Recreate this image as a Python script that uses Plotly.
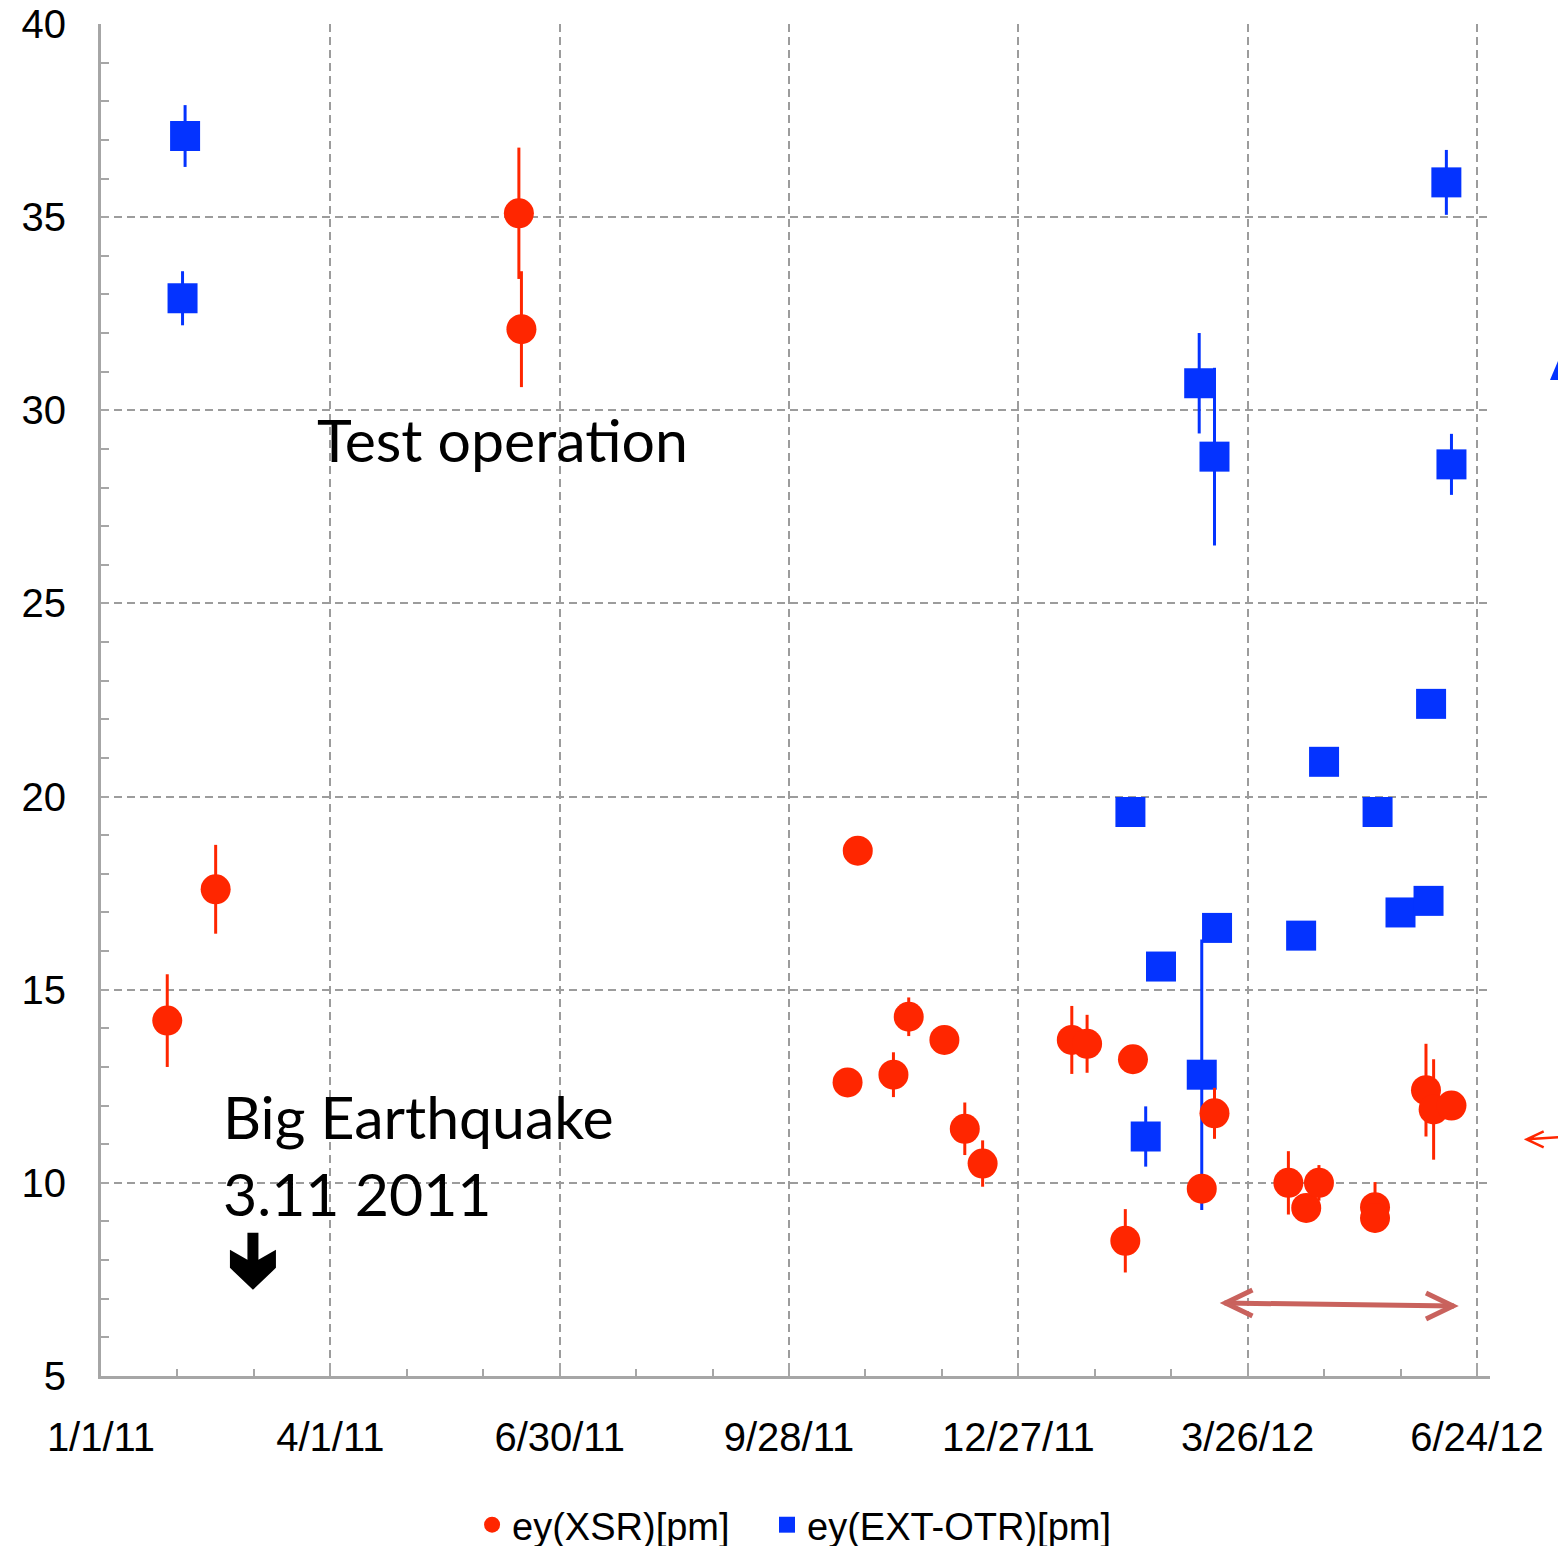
import plotly.graph_objects as go

# ey(XSR)[pm] measurements
xsr_dates = [
    "2011-01-27", "2011-02-15", "2011-06-14", "2011-06-15", "2011-10-21",
    "2011-10-25", "2011-11-08", "2011-11-14", "2011-11-28", "2011-12-06",
    "2011-12-13", "2012-01-17", "2012-01-23", "2012-02-07", "2012-02-10",
    "2012-03-08", "2012-03-13", "2012-04-11", "2012-04-18", "2012-04-23",
    "2012-05-15", "2012-05-15", "2012-06-04", "2012-06-07", "2012-06-14",
]
xsr_values = [
    14.2, 17.6, 35.1, 32.1, 12.6,
    18.6, 12.8, 14.3, 13.7, 11.4,
    10.5, 13.7, 13.6, 8.5, 13.2,
    9.85, 11.8, 10.0, 9.35, 10.0,
    9.37, 9.09, 12.4, 11.9, 12.0,
]
xsr_errors = [
    1.2, 1.15, 1.7, 1.5, 0.15,
    0.0, 0.58, 0.5, 0.0, 0.68,
    0.6, 0.88, 0.75, 0.82, 0.0,
    0.0, 0.66, 0.82, 0.0, 0.46,
    0.65, 0.0, 1.2, 1.3, 0.0,
]

# ey(EXT-OTR)[pm] measurements
otr_dates = [
    "2011-02-02", "2011-02-03", "2012-02-09", "2012-02-15", "2012-02-21",
    "2012-03-07", "2012-03-08", "2012-03-13", "2012-03-14", "2012-04-16",
    "2012-04-25", "2012-05-16", "2012-05-25", "2012-06-05", "2012-06-06",
    "2012-06-12", "2012-06-14",
]
otr_values = [
    32.9, 37.1, 19.6, 11.2, 15.6,
    30.7, 12.8, 28.8, 16.6, 16.4,
    20.9, 19.6, 17.0, 17.3, 22.4,
    35.9, 28.6,
]
otr_errors = [
    0.7, 0.8, 0.0, 0.78, 0.0,
    1.3, 3.5, 2.3, 0.1, 0.0,
    0.0, 0.0, 0.0, 0.0, 0.0,
    0.84, 0.79,
]

# axis settings
x_start = "2011-01-01"
x_end = "2012-06-29 03:00"
DAY_MS = 86400000
major_step_days = 90
minor_step_days = 30
y_range = [5, 40]

RED = "#FF2600"
BLUE = "#0433FF"
GRID = "#9C9C9C"
AXIS = "#A6A6A6"
NOTE_RED = "#C9625D"
TICK_FONT = "Liberation Sans, Arial, sans-serif"
NOTE_FONT = "Lato, Open Sans, sans-serif"

fig = go.Figure()

fig.add_trace(go.Scatter(
    x=otr_dates, y=otr_values, mode="markers", name="ey(EXT-OTR)[pm]",
    marker=dict(symbol="square", size=30, color=BLUE, line=dict(width=0)),
    error_y=dict(type="data", array=otr_errors, color=BLUE, thickness=3, width=0),
    legend="legend2",
))
fig.add_trace(go.Scatter(
    x=xsr_dates, y=xsr_values, mode="markers", name="ey(XSR)[pm]",
    marker=dict(symbol="circle", size=30, color=RED, line=dict(width=0)),
    error_y=dict(type="data", array=xsr_errors, color=RED, thickness=3, width=0),
    legend="legend",
))

# black block arrow marking the earthquake date (path in pixels around its tip)
fig.add_shape(
    type="path", xref="x", yref="y", xsizemode="pixel", ysizemode="pixel",
    xanchor="2011-03-01 15:00", yanchor=7.23,
    path="M -5.5 57 L 5.5 57 L 5.5 30 L 23 40 L 23 22 L 0 0 L -23 22 L -23 40 L -5.5 30 Z",
    fillcolor="black", line=dict(width=0),
)

# double-headed period arrow
arrow_left = ("2012-03-16 22:00", 6.89)
arrow_right = ("2012-06-15", 6.81)
fig.add_shape(type="line", xref="x", yref="y",
              x0=arrow_left[0], y0=arrow_left[1], x1=arrow_right[0], y1=arrow_right[1],
              line=dict(color=NOTE_RED, width=5))
fig.add_shape(type="path", xref="x", yref="y", xsizemode="pixel", ysizemode="pixel",
              xanchor=arrow_left[0], yanchor=arrow_left[1],
              path="M 28 13 L 1 0 L 28 -13", line=dict(color=NOTE_RED, width=5))
fig.add_shape(type="path", xref="x", yref="y", xsizemode="pixel", ysizemode="pixel",
              xanchor=arrow_right[0], yanchor=arrow_right[1],
              path="M -28 13 L -1 0 L -28 -13", line=dict(color=NOTE_RED, width=5))

# pieces of neighbouring slide graphics at the right edge
fig.add_shape(type="path", xref="paper", yref="paper", xsizemode="pixel", ysizemode="pixel",
              xanchor=1.0264, yanchor=0.1751,
              path="M 17 8 L 0 0 L 17 -8 M 0 0 L 45 3", line=dict(color=RED, width=2.5))
fig.add_shape(type="path", xref="paper", yref="paper", xsizemode="pixel", ysizemode="pixel",
              xanchor=1.0432, yanchor=0.7367,
              path="M 0 0 L 30 0 L 30 45 L 19 45 Z", fillcolor=BLUE, line=dict(width=0))

fig.add_annotation(
    x="2011-03-26", y=29.25, xref="x", yref="y", text="Test operation",
    showarrow=False, xanchor="left", yanchor="middle",
    font=dict(family=NOTE_FONT, size=59, color="black"),
)
fig.add_annotation(
    x="2011-02-17", y=10.72, xref="x", yref="y", text="Big Earthquake<br>3.11 2011",
    showarrow=False, xanchor="left", yanchor="middle", align="left",
    font=dict(family=NOTE_FONT, size=59, color="black"),
)

fig.update_xaxes(
    type="date", range=[x_start, x_end], automargin=False,
    tick0=x_start, dtick=major_step_days * DAY_MS, tickformat="%-m/%-d/%y",
    tickfont=dict(family=TICK_FONT, size=40, color="black"),
    ticks="inside", ticklen=13, tickwidth=2, tickcolor=AXIS,
    ticklabelstandoff=24,
    minor=dict(tick0=x_start, dtick=minor_step_days * DAY_MS, ticks="inside",
               ticklen=7, tickwidth=2, tickcolor=AXIS, showgrid=False),
    showgrid=True, gridcolor=GRID, gridwidth=2, griddash="8px,5px",
    showline=True, linecolor=AXIS, linewidth=3, zeroline=False,
)
fig.update_yaxes(
    range=y_range, tick0=0, dtick=5, automargin=False,
    tickfont=dict(family=TICK_FONT, size=40, color="black"),
    ticks="inside", ticklen=8, tickwidth=2, tickcolor=AXIS,
    ticklabelstandoff=24,
    minor=dict(dtick=1, ticks="inside", ticklen=8, tickwidth=2, tickcolor=AXIS, showgrid=False),
    showgrid=True, gridcolor=GRID, gridwidth=2, griddash="8px,5px",
    showline=True, linecolor=AXIS, linewidth=3, zeroline=False,
)

legend_style = dict(
    orientation="h", xref="container", yref="container",
    y=0.0136, xanchor="left", yanchor="middle",
    font=dict(family=TICK_FONT, size=38, color="black"),
    itemsizing="trace", bgcolor="rgba(0,0,0,0)",
)

fig.update_layout(
    width=1558, height=1546,
    margin=dict(l=101, r=68, t=24, b=170, pad=0, autoexpand=False),
    paper_bgcolor="white", plot_bgcolor="white",
    showlegend=True,
    legend=dict(x=0.303, **legend_style),
    legend2=dict(x=0.4923, **legend_style),
)

fig.write_html("out.html")
